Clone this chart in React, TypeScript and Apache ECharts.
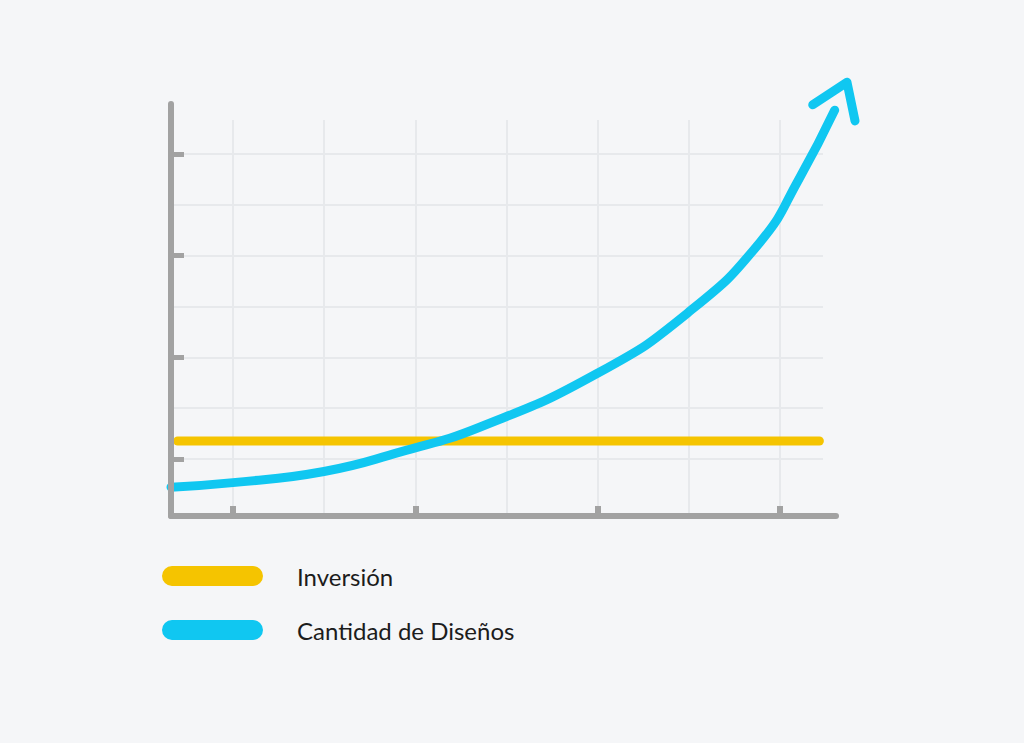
import React, { useEffect, useRef } from "react";
import * as echarts from "echarts";

// Data (x: time share 0–100 along the axis, y: value 0–100)
const seriesNames = ["Inversión", "Cantidad de Diseños"];
const inversionX = [1, 97.5];
const inversionY = [18.2, 18.2];
const disenosX = [0, 9.3, 23.0, 34.4, 46.5, 64.2, 77.7, 88.6, 94.6, 99.8];
const disenosY = [7.0, 8.1, 10.8, 15.5, 21.6, 34.7, 49.3, 66.5, 82.3, 98.5];
const arrowX = [96.5, 101.65, 102.86];
const arrowY = [99.8, 105.3, 95.9];
const gridSteps = [0, 6]; // grid line index range

const GRAY = "#a2a2a2";
const GRIDLINE = "#e7e9ec";
const YELLOW = "#f5c400";
const BLUE = "#10c7f1";
const BG = "#f5f6f8";

const zip = (xs: number[], ys: number[]) => xs.map((x, i) => [x, ys[i]]);

// pixel scale of the main plot: 6.65 px per x unit, 4.12 px per y unit
const PX_X = 6.65;
const PX_Y = 4.12;
const LEFT = 171;
const BOTTOM = 516;

export default function App() {
  const ref = useRef<HTMLDivElement>(null);
  useEffect(() => {
    document.body.style.margin = "0";
    const chart = echarts.init(ref.current!, null, { renderer: "svg" });
    const hidden = { show: false };
    const option: any = {
      animation: false,
      backgroundColor: BG,
      grid: [
        // A: vertical grid lines + x ticks
        { left: 233, top: 120, width: 547, height: 396 },
        // B: horizontal grid lines + y ticks
        { left: LEFT, top: 154, width: 652, height: 305 },
        // C: main axis lines (0..100)
        { left: LEFT, top: BOTTOM - PX_Y * 100, width: PX_X * 100, height: PX_Y * 100 },
        // D: same scale, extended to 110 so the arrowhead fits
        { left: LEFT, top: BOTTOM - PX_Y * 110, width: PX_X * 110, height: PX_Y * 110 },
      ],
      xAxis: [
        {
          gridIndex: 0, type: "value", min: gridSteps[0], max: gridSteps[1], interval: 2,
          axisLine: hidden, axisLabel: hidden,
          axisTick: { show: true, inside: true, length: 10, lineStyle: { color: GRAY, width: 6 } },
          splitLine: { show: true, lineStyle: { color: GRIDLINE, width: 2 } },
          minorTick: { show: false, splitNumber: 2 },
          minorSplitLine: { show: true, lineStyle: { color: GRIDLINE, width: 2 } },
          z: 0,
        },
        {
          gridIndex: 1, type: "value", min: 0, max: 1,
          axisLine: hidden, axisLabel: hidden, axisTick: hidden, splitLine: hidden,
        },
        {
          gridIndex: 2, type: "value", min: 0, max: 100,
          axisLine: { show: true, lineStyle: { color: GRAY, width: 6, cap: "round" } },
          axisLabel: hidden, axisTick: hidden, splitLine: hidden,
          z: 5,
        },
        {
          gridIndex: 3, type: "value", min: 0, max: 110,
          axisLine: hidden, axisLabel: hidden, axisTick: hidden, splitLine: hidden,
        },
      ],
      yAxis: [
        {
          gridIndex: 0, type: "value", min: 0, max: 1,
          axisLine: hidden, axisLabel: hidden, axisTick: hidden, splitLine: hidden,
        },
        {
          gridIndex: 1, type: "value", min: gridSteps[0], max: gridSteps[1], interval: 2,
          axisLine: hidden, axisLabel: hidden,
          axisTick: { show: true, inside: true, length: 13, lineStyle: { color: GRAY, width: 5 } },
          splitLine: { show: true, lineStyle: { color: GRIDLINE, width: 2 } },
          minorTick: { show: false, splitNumber: 2 },
          minorSplitLine: { show: true, lineStyle: { color: GRIDLINE, width: 2 } },
          z: 0,
        },
        {
          gridIndex: 2, type: "value", min: 0, max: 100,
          axisLine: { show: true, lineStyle: { color: GRAY, width: 6, cap: "round" } },
          axisLabel: hidden, axisTick: hidden, splitLine: hidden,
          z: 5,
        },
        {
          gridIndex: 3, type: "value", min: 0, max: 110,
          axisLine: hidden, axisLabel: hidden, axisTick: hidden, splitLine: hidden,
        },
      ],
      legend: {
        data: seriesNames,
        orient: "vertical",
        left: 162,
        top: 564,
        padding: 0,
        itemWidth: 101,
        itemHeight: 21,
        itemGap: 30,
        icon: "path://M10,0 L91,0 A10,10 0 0 1 91,20 L10,20 A10,10 0 0 1 10,0 Z",
        textStyle: {
          fontFamily: "Lato",
          fontSize: 24,
          color: "#1c1c1c",
          padding: [0, 0, 0, 29],
        },
        selectedMode: false,
      },
      series: [
        {
          name: seriesNames[0], type: "line", xAxisIndex: 3, yAxisIndex: 3,
          data: zip(inversionX, inversionY), symbol: "none", color: YELLOW,
          lineStyle: { color: YELLOW, width: 9, cap: "round" }, z: 3,
        },
        {
          name: seriesNames[1], type: "line", xAxisIndex: 3, yAxisIndex: 3,
          data: zip(disenosX, disenosY), symbol: "none", color: BLUE,
          smooth: 0.5,
          lineStyle: { color: BLUE, width: 9, cap: "round", join: "round" }, z: 3,
        },
        {
          name: "arrow", type: "line", xAxisIndex: 3, yAxisIndex: 3,
          data: zip(arrowX, arrowY), symbol: "none", color: BLUE,
          lineStyle: { color: BLUE, width: 9, cap: "round", join: "round" }, z: 3,
        },
      ],
    };
    chart.setOption(option);
    return () => chart.dispose();
  }, []);
  return (
    <div style={{ position: "absolute", left: 0, top: 0, width: 1024, height: 743, background: BG }}>
      <div ref={ref} style={{ width: 1024, height: 743 }} />
    </div>
  );
}
